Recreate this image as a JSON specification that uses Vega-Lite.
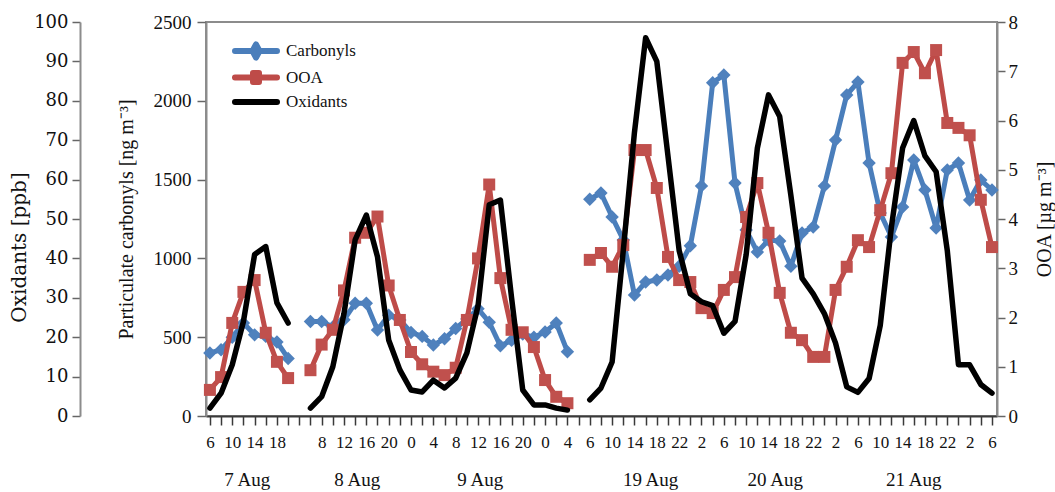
{
  "$schema": "https://vega.github.io/schema/vega-lite/v6.json",
  "width": 791,
  "height": 394,
  "autosize": {"type": "none"},
  "padding": {"left": 206, "top": 22, "right": 58, "bottom": 76},
  "background": "white",
  "config": {
    "view": {"stroke": "#8c8c8c", "strokeWidth": 2},
    "font": "Liberation Serif",
    "axis": {
      "labelFont": "Liberation Serif",
      "titleFont": "Liberation Serif",
      "labelColor": "#111111",
      "titleColor": "#111111",
      "titleFontWeight": "normal",
      "grid": false,
      "domainColor": "#8c8c8c",
      "domainWidth": 2,
      "tickColor": "#666666",
      "tickWidth": 1.5
    }
  },
  "datasets": {
    "carbonyls": [
      {"series": "Carbonyls", "seg": 1, "t": 0, "value": 400},
      {"series": "Carbonyls", "seg": 1, "t": 2, "value": 420},
      {"series": "Carbonyls", "seg": 1, "t": 4, "value": 500},
      {"series": "Carbonyls", "seg": 1, "t": 6, "value": 590},
      {"series": "Carbonyls", "seg": 1, "t": 8, "value": 515},
      {"series": "Carbonyls", "seg": 1, "t": 10, "value": 505},
      {"series": "Carbonyls", "seg": 1, "t": 12, "value": 470},
      {"series": "Carbonyls", "seg": 1, "t": 14, "value": 365},
      {"series": "Carbonyls", "seg": 2, "t": 18, "value": 600},
      {"series": "Carbonyls", "seg": 2, "t": 20, "value": 600},
      {"series": "Carbonyls", "seg": 2, "t": 22, "value": 565},
      {"series": "Carbonyls", "seg": 2, "t": 24, "value": 610},
      {"series": "Carbonyls", "seg": 2, "t": 26, "value": 715},
      {"series": "Carbonyls", "seg": 2, "t": 28, "value": 715},
      {"series": "Carbonyls", "seg": 2, "t": 30, "value": 545},
      {"series": "Carbonyls", "seg": 2, "t": 32, "value": 640},
      {"series": "Carbonyls", "seg": 2, "t": 34, "value": 609},
      {"series": "Carbonyls", "seg": 2, "t": 36, "value": 530},
      {"series": "Carbonyls", "seg": 2, "t": 38, "value": 505},
      {"series": "Carbonyls", "seg": 2, "t": 40, "value": 450},
      {"series": "Carbonyls", "seg": 2, "t": 42, "value": 490},
      {"series": "Carbonyls", "seg": 2, "t": 44, "value": 555},
      {"series": "Carbonyls", "seg": 2, "t": 46, "value": 615},
      {"series": "Carbonyls", "seg": 2, "t": 48, "value": 680},
      {"series": "Carbonyls", "seg": 2, "t": 50, "value": 595},
      {"series": "Carbonyls", "seg": 2, "t": 52, "value": 445},
      {"series": "Carbonyls", "seg": 2, "t": 54, "value": 480},
      {"series": "Carbonyls", "seg": 2, "t": 56, "value": 520},
      {"series": "Carbonyls", "seg": 2, "t": 58, "value": 500},
      {"series": "Carbonyls", "seg": 2, "t": 60, "value": 533},
      {"series": "Carbonyls", "seg": 2, "t": 62, "value": 590},
      {"series": "Carbonyls", "seg": 2, "t": 64, "value": 408},
      {"series": "Carbonyls", "seg": 3, "t": 68, "value": 1375},
      {"series": "Carbonyls", "seg": 3, "t": 70, "value": 1415},
      {"series": "Carbonyls", "seg": 3, "t": 72, "value": 1263},
      {"series": "Carbonyls", "seg": 3, "t": 74, "value": 1117},
      {"series": "Carbonyls", "seg": 3, "t": 76, "value": 768},
      {"series": "Carbonyls", "seg": 3, "t": 78, "value": 850},
      {"series": "Carbonyls", "seg": 3, "t": 80, "value": 863},
      {"series": "Carbonyls", "seg": 3, "t": 82, "value": 895},
      {"series": "Carbonyls", "seg": 3, "t": 84, "value": 950},
      {"series": "Carbonyls", "seg": 3, "t": 86, "value": 1080},
      {"series": "Carbonyls", "seg": 3, "t": 88, "value": 1460},
      {"series": "Carbonyls", "seg": 3, "t": 90, "value": 2115},
      {"series": "Carbonyls", "seg": 3, "t": 92, "value": 2164},
      {"series": "Carbonyls", "seg": 3, "t": 94, "value": 1478},
      {"series": "Carbonyls", "seg": 3, "t": 96, "value": 1180},
      {"series": "Carbonyls", "seg": 3, "t": 98, "value": 1040},
      {"series": "Carbonyls", "seg": 3, "t": 100, "value": 1117},
      {"series": "Carbonyls", "seg": 3, "t": 102, "value": 1110},
      {"series": "Carbonyls", "seg": 3, "t": 104, "value": 950},
      {"series": "Carbonyls", "seg": 3, "t": 106, "value": 1161},
      {"series": "Carbonyls", "seg": 3, "t": 108, "value": 1199},
      {"series": "Carbonyls", "seg": 3, "t": 110, "value": 1460},
      {"series": "Carbonyls", "seg": 3, "t": 112, "value": 1751},
      {"series": "Carbonyls", "seg": 3, "t": 114, "value": 2037},
      {"series": "Carbonyls", "seg": 3, "t": 116, "value": 2119},
      {"series": "Carbonyls", "seg": 3, "t": 118, "value": 1605},
      {"series": "Carbonyls", "seg": 3, "t": 120, "value": 1288},
      {"series": "Carbonyls", "seg": 3, "t": 122, "value": 1136},
      {"series": "Carbonyls", "seg": 3, "t": 124, "value": 1326},
      {"series": "Carbonyls", "seg": 3, "t": 126, "value": 1624},
      {"series": "Carbonyls", "seg": 3, "t": 128, "value": 1434},
      {"series": "Carbonyls", "seg": 3, "t": 130, "value": 1193},
      {"series": "Carbonyls", "seg": 3, "t": 132, "value": 1561},
      {"series": "Carbonyls", "seg": 3, "t": 134, "value": 1605},
      {"series": "Carbonyls", "seg": 3, "t": 136, "value": 1370},
      {"series": "Carbonyls", "seg": 3, "t": 138, "value": 1497},
      {"series": "Carbonyls", "seg": 3, "t": 140, "value": 1434}
    ],
    "ooa": [
      {"series": "OOA", "seg": 1, "t": 0, "value": 0.53},
      {"series": "OOA", "seg": 1, "t": 2, "value": 0.79},
      {"series": "OOA", "seg": 1, "t": 4, "value": 1.89},
      {"series": "OOA", "seg": 1, "t": 6, "value": 2.52},
      {"series": "OOA", "seg": 1, "t": 8, "value": 2.76},
      {"series": "OOA", "seg": 1, "t": 10, "value": 1.69},
      {"series": "OOA", "seg": 1, "t": 12, "value": 1.1},
      {"series": "OOA", "seg": 1, "t": 14, "value": 0.77},
      {"series": "OOA", "seg": 2, "t": 18, "value": 0.93},
      {"series": "OOA", "seg": 2, "t": 20, "value": 1.45},
      {"series": "OOA", "seg": 2, "t": 22, "value": 1.75},
      {"series": "OOA", "seg": 2, "t": 24, "value": 2.55},
      {"series": "OOA", "seg": 2, "t": 26, "value": 3.62},
      {"series": "OOA", "seg": 2, "t": 28, "value": 3.72},
      {"series": "OOA", "seg": 2, "t": 30, "value": 4.05},
      {"series": "OOA", "seg": 2, "t": 32, "value": 2.65},
      {"series": "OOA", "seg": 2, "t": 34, "value": 1.95},
      {"series": "OOA", "seg": 2, "t": 36, "value": 1.3},
      {"series": "OOA", "seg": 2, "t": 38, "value": 1.05},
      {"series": "OOA", "seg": 2, "t": 40, "value": 0.9},
      {"series": "OOA", "seg": 2, "t": 42, "value": 0.83},
      {"series": "OOA", "seg": 2, "t": 44, "value": 0.98},
      {"series": "OOA", "seg": 2, "t": 46, "value": 1.95},
      {"series": "OOA", "seg": 2, "t": 48, "value": 3.2},
      {"series": "OOA", "seg": 2, "t": 50, "value": 4.7},
      {"series": "OOA", "seg": 2, "t": 52, "value": 2.8},
      {"series": "OOA", "seg": 2, "t": 54, "value": 1.75},
      {"series": "OOA", "seg": 2, "t": 56, "value": 1.7},
      {"series": "OOA", "seg": 2, "t": 58, "value": 1.4},
      {"series": "OOA", "seg": 2, "t": 60, "value": 0.73},
      {"series": "OOA", "seg": 2, "t": 62, "value": 0.39},
      {"series": "OOA", "seg": 2, "t": 64, "value": 0.26},
      {"series": "OOA", "seg": 3, "t": 68, "value": 3.17},
      {"series": "OOA", "seg": 3, "t": 70, "value": 3.31},
      {"series": "OOA", "seg": 3, "t": 72, "value": 3.03},
      {"series": "OOA", "seg": 3, "t": 74, "value": 3.47},
      {"series": "OOA", "seg": 3, "t": 76, "value": 5.4},
      {"series": "OOA", "seg": 3, "t": 78, "value": 5.4},
      {"series": "OOA", "seg": 3, "t": 80, "value": 4.63},
      {"series": "OOA", "seg": 3, "t": 82, "value": 3.23},
      {"series": "OOA", "seg": 3, "t": 84, "value": 2.76},
      {"series": "OOA", "seg": 3, "t": 86, "value": 2.72},
      {"series": "OOA", "seg": 3, "t": 88, "value": 2.19},
      {"series": "OOA", "seg": 3, "t": 90, "value": 2.09},
      {"series": "OOA", "seg": 3, "t": 92, "value": 2.56},
      {"series": "OOA", "seg": 3, "t": 94, "value": 2.82},
      {"series": "OOA", "seg": 3, "t": 96, "value": 4.04},
      {"series": "OOA", "seg": 3, "t": 98, "value": 4.73},
      {"series": "OOA", "seg": 3, "t": 100, "value": 3.72},
      {"series": "OOA", "seg": 3, "t": 102, "value": 2.5},
      {"series": "OOA", "seg": 3, "t": 104, "value": 1.69},
      {"series": "OOA", "seg": 3, "t": 106, "value": 1.54},
      {"series": "OOA", "seg": 3, "t": 108, "value": 1.2},
      {"series": "OOA", "seg": 3, "t": 110, "value": 1.2},
      {"series": "OOA", "seg": 3, "t": 112, "value": 2.56},
      {"series": "OOA", "seg": 3, "t": 114, "value": 3.03},
      {"series": "OOA", "seg": 3, "t": 116, "value": 3.57},
      {"series": "OOA", "seg": 3, "t": 118, "value": 3.43},
      {"series": "OOA", "seg": 3, "t": 120, "value": 4.18},
      {"series": "OOA", "seg": 3, "t": 122, "value": 4.93},
      {"series": "OOA", "seg": 3, "t": 124, "value": 7.17},
      {"series": "OOA", "seg": 3, "t": 126, "value": 7.39},
      {"series": "OOA", "seg": 3, "t": 128, "value": 6.96},
      {"series": "OOA", "seg": 3, "t": 130, "value": 7.43},
      {"series": "OOA", "seg": 3, "t": 132, "value": 5.95},
      {"series": "OOA", "seg": 3, "t": 134, "value": 5.85},
      {"series": "OOA", "seg": 3, "t": 136, "value": 5.7},
      {"series": "OOA", "seg": 3, "t": 138, "value": 4.39},
      {"series": "OOA", "seg": 3, "t": 140, "value": 3.43}
    ],
    "oxidants": [
      {"series": "Oxidants", "seg": 1, "t": 0, "value": 2},
      {"series": "Oxidants", "seg": 1, "t": 2, "value": 5.8},
      {"series": "Oxidants", "seg": 1, "t": 4, "value": 13},
      {"series": "Oxidants", "seg": 1, "t": 6, "value": 24},
      {"series": "Oxidants", "seg": 1, "t": 8, "value": 41},
      {"series": "Oxidants", "seg": 1, "t": 10, "value": 43},
      {"series": "Oxidants", "seg": 1, "t": 12, "value": 28.7},
      {"series": "Oxidants", "seg": 1, "t": 14, "value": 23.6},
      {"series": "Oxidants", "seg": 2, "t": 18, "value": 2},
      {"series": "Oxidants", "seg": 2, "t": 20, "value": 4.9},
      {"series": "Oxidants", "seg": 2, "t": 22, "value": 12.5},
      {"series": "Oxidants", "seg": 2, "t": 24, "value": 26},
      {"series": "Oxidants", "seg": 2, "t": 26, "value": 44.7},
      {"series": "Oxidants", "seg": 2, "t": 28, "value": 51},
      {"series": "Oxidants", "seg": 2, "t": 30, "value": 40.4},
      {"series": "Oxidants", "seg": 2, "t": 32, "value": 19.3},
      {"series": "Oxidants", "seg": 2, "t": 34, "value": 11.7},
      {"series": "Oxidants", "seg": 2, "t": 36, "value": 6.6},
      {"series": "Oxidants", "seg": 2, "t": 38, "value": 6.1},
      {"series": "Oxidants", "seg": 2, "t": 40, "value": 9.1},
      {"series": "Oxidants", "seg": 2, "t": 42, "value": 7.1},
      {"series": "Oxidants", "seg": 2, "t": 44, "value": 9.6},
      {"series": "Oxidants", "seg": 2, "t": 46, "value": 16},
      {"series": "Oxidants", "seg": 2, "t": 48, "value": 28},
      {"series": "Oxidants", "seg": 2, "t": 50, "value": 53.6},
      {"series": "Oxidants", "seg": 2, "t": 52, "value": 54.8},
      {"series": "Oxidants", "seg": 2, "t": 54, "value": 30},
      {"series": "Oxidants", "seg": 2, "t": 56, "value": 6.6},
      {"series": "Oxidants", "seg": 2, "t": 58, "value": 2.8},
      {"series": "Oxidants", "seg": 2, "t": 60, "value": 2.8},
      {"series": "Oxidants", "seg": 2, "t": 62, "value": 2},
      {"series": "Oxidants", "seg": 2, "t": 64, "value": 1.5},
      {"series": "Oxidants", "seg": 3, "t": 68, "value": 4.1},
      {"series": "Oxidants", "seg": 3, "t": 70, "value": 7.1},
      {"series": "Oxidants", "seg": 3, "t": 72, "value": 13.7},
      {"series": "Oxidants", "seg": 3, "t": 74, "value": 42},
      {"series": "Oxidants", "seg": 3, "t": 76, "value": 72},
      {"series": "Oxidants", "seg": 3, "t": 78, "value": 96},
      {"series": "Oxidants", "seg": 3, "t": 80, "value": 90},
      {"series": "Oxidants", "seg": 3, "t": 82, "value": 66},
      {"series": "Oxidants", "seg": 3, "t": 84, "value": 42},
      {"series": "Oxidants", "seg": 3, "t": 86, "value": 31},
      {"series": "Oxidants", "seg": 3, "t": 88, "value": 29},
      {"series": "Oxidants", "seg": 3, "t": 90, "value": 28},
      {"series": "Oxidants", "seg": 3, "t": 92, "value": 21},
      {"series": "Oxidants", "seg": 3, "t": 94, "value": 24},
      {"series": "Oxidants", "seg": 3, "t": 96, "value": 41},
      {"series": "Oxidants", "seg": 3, "t": 98, "value": 68},
      {"series": "Oxidants", "seg": 3, "t": 100, "value": 81.5},
      {"series": "Oxidants", "seg": 3, "t": 102, "value": 76},
      {"series": "Oxidants", "seg": 3, "t": 104, "value": 56},
      {"series": "Oxidants", "seg": 3, "t": 106, "value": 35},
      {"series": "Oxidants", "seg": 3, "t": 108, "value": 31},
      {"series": "Oxidants", "seg": 3, "t": 110, "value": 26},
      {"series": "Oxidants", "seg": 3, "t": 112, "value": 18.5},
      {"series": "Oxidants", "seg": 3, "t": 114, "value": 7.4},
      {"series": "Oxidants", "seg": 3, "t": 116, "value": 6},
      {"series": "Oxidants", "seg": 3, "t": 118, "value": 9.5},
      {"series": "Oxidants", "seg": 3, "t": 120, "value": 23},
      {"series": "Oxidants", "seg": 3, "t": 122, "value": 48},
      {"series": "Oxidants", "seg": 3, "t": 124, "value": 68},
      {"series": "Oxidants", "seg": 3, "t": 126, "value": 75},
      {"series": "Oxidants", "seg": 3, "t": 128, "value": 66},
      {"series": "Oxidants", "seg": 3, "t": 130, "value": 62},
      {"series": "Oxidants", "seg": 3, "t": 132, "value": 42},
      {"series": "Oxidants", "seg": 3, "t": 134, "value": 13},
      {"series": "Oxidants", "seg": 3, "t": 136, "value": 13},
      {"series": "Oxidants", "seg": 3, "t": 138, "value": 8},
      {"series": "Oxidants", "seg": 3, "t": 140, "value": 5.8}
    ]
  },
  "layer": [
    {
      "data": {"name": "carbonyls"},
      "encoding": {
        "x": {
          "field": "t",
          "type": "quantitative",
          "scale": {"domain": [-0.7, 140.9], "nice": false, "zero": false},
          "axis": {
            "orient": "bottom",
            "title": null,
            "values": [0,2,4,6,8,10,12,14,16,18,20,22,24,26,28,30,32,34,36,38,40,42,44,46,48,50,52,54,56,58,60,62,64,66,68,70,72,74,76,78,80,82,84,86,88,90,92,94,96,98,100,102,104,106,108,110,112,114,116,118,120,122,124,126,128,130,132,134,136,138,140],
            "labelExpr": "(datum.value % 4 != 0 || datum.value == 16) ? '' : (datum.value <= 12 ? '' + (datum.value + 6) : (datum.value <= 64 ? '' + ((datum.value + 12) % 24) : '' + ((datum.value - 62) % 24)))",
            "tickSize": 9,
            "tickColor": "#3a3a3a",
            "domainColor": "#3a3a3a",
            "labelPadding": 9,
            "labelFontSize": 17,
            "labelOverlap": false,
            "labelFlush": false,
            "labelBound": false
          }
        },
        "y": {
          "field": "value",
          "type": "quantitative",
          "scale": {"domain": [0, 2500], "nice": false},
          "axis": {
            "orient": "left",
            "values": [0, 500, 1000, 1500, 2000, 2500],
            "format": "d",
            "tickSize": 9,
            "labelPadding": 6,
            "labelFontSize": 19,
            "title": "Particulate carbonyls [ng m⁻³]",
            "titleFontSize": 20,
            "titlePadding": 17
          }
        },
        "detail": {"field": "seg", "type": "nominal"}
      },
      "layer": [
        {
          "mark": {"type": "line", "strokeWidth": 5, "strokeJoin": "round", "strokeCap": "round"},
          "encoding": {
            "color": {
              "field": "series",
              "type": "nominal",
              "scale": {"domain": ["Carbonyls", "OOA", "Oxidants"], "range": ["#4A7EBB", "#BE4B48", "#000000"]},
              "legend": {
                "orient": "none",
                "legendX": 37,
                "legendY": 16,
                "title": null,
                "padding": 0,
                "symbolSize": 400,
                "symbolStrokeWidth": 6,
                "labelFont": "Liberation Serif",
                "labelFontSize": 17,
                "labelColor": "#111111",
                "labelOffset": 17,
                "rowPadding": 3.5,
                "encode": {
                  "symbols": {
                    "update": {
                      "shape": {"signal": "datum.value === 'Carbonyls' ? 'M-2.1,0H2.1M0,-0.65L0.35,0L0,0.65L-0.35,0Z' : (datum.value === 'OOA' ? 'M-2.1,0H2.1M-0.3,-0.45H0.3V0.45H-0.3Z' : 'M-2.1,0H2.1')"},
                      "fill": {"scale": "color", "field": "value"},
                      "stroke": {"scale": "color", "field": "value"},
                      "strokeWidth": {"value": 6},
                      "strokeCap": {"value": "round"},
                      "strokeJoin": {"value": "round"},
                      "opacity": {"value": 1},
                      "fillOpacity": {"value": 1}
                    }
                  }
                }
              }
            }
          }
        },
        {
          "mark": {"type": "point", "shape": "diamond", "filled": true, "size": 180, "color": "#4F81BD", "opacity": 1}
        }
      ]
    },
    {
      "data": {"name": "ooa"},
      "encoding": {
        "x": {
          "field": "t",
          "type": "quantitative",
          "scale": {"domain": [-0.7, 140.9], "nice": false, "zero": false},
          "axis": null
        },
        "y": {
          "field": "value",
          "type": "quantitative",
          "scale": {"domain": [0, 8], "nice": false},
          "axis": {
            "orient": "right",
            "values": [0, 1, 2, 3, 4, 5, 6, 7, 8],
            "tickSize": 8,
            "labelPadding": 3,
            "labelFontSize": 19,
            "title": "OOA [µg m⁻³]",
            "titleFontSize": 20,
            "titleAngle": 270,
            "titleBaseline": "top",
            "titlePadding": 17
          }
        },
        "detail": {"field": "seg", "type": "nominal"}
      },
      "layer": [
        {
          "mark": {"type": "line", "strokeWidth": 5, "strokeJoin": "round", "strokeCap": "round"},
          "encoding": {
            "color": {"field": "series", "type": "nominal", "scale": {"domain": ["Carbonyls", "OOA", "Oxidants"], "range": ["#4A7EBB", "#BE4B48", "#000000"]}}
          }
        },
        {
          "mark": {"type": "point", "shape": "square", "filled": true, "size": 144, "color": "#C0504D", "opacity": 1}
        }
      ]
    },
    {
      "data": {"name": "oxidants"},
      "mark": {"type": "line", "strokeWidth": 5.5, "strokeJoin": "round", "strokeCap": "round"},
      "encoding": {
        "x": {
          "field": "t",
          "type": "quantitative",
          "scale": {"domain": [-0.7, 140.9], "nice": false, "zero": false},
          "axis": {
            "orient": "bottom",
            "title": null,
            "values": [6.6, 26.3, 48.3, 78.8, 101.1, 125.9],
            "labelExpr": "datum.value < 15 ? '7 Aug' : (datum.value < 35 ? '8 Aug' : (datum.value < 60 ? '9 Aug' : (datum.value < 90 ? '19 Aug' : (datum.value < 115 ? '20 Aug' : '21 Aug'))))",
            "tickSize": 0,
            "ticks": false,
            "domain": false,
            "labelPadding": 54,
            "labelFontSize": 19,
            "labelOverlap": false,
            "labelFlush": false,
            "labelBound": false
          }
        },
        "y": {
          "field": "value",
          "type": "quantitative",
          "scale": {"domain": [0, 100], "nice": false},
          "axis": {
            "orient": "left",
            "offset": 126,
            "values": [0, 10, 20, 30, 40, 50, 60, 70, 80, 90, 100],
            "tickSize": 8,
            "labelPadding": 4,
            "labelFont": "DejaVu Serif",
            "labelFontSize": 18,
            "title": "Oxidants [ppb]",
            "titleFont": "DejaVu Serif",
            "titleFontSize": 20,
            "titlePadding": 4,
            "titleY": 225
          }
        },
        "detail": {"field": "seg", "type": "nominal"},
        "color": {"field": "series", "type": "nominal", "scale": {"domain": ["Carbonyls", "OOA", "Oxidants"], "range": ["#4A7EBB", "#BE4B48", "#000000"]}}
      }
    }
  ],
  "resolve": {"scale": {"y": "independent"}, "axis": {"x": "independent", "y": "independent"}}
}
